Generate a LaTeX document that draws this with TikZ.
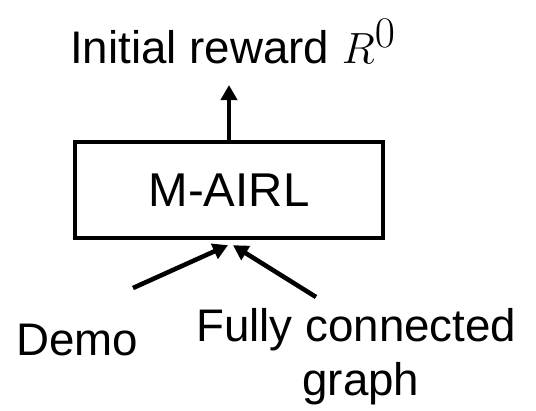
\documentclass[tikz,border=0pt]{standalone}
\usepackage{fontspec}
\setmainfont{Liberation Sans}
\usepackage{tikz}
\usetikzlibrary{arrows.meta,positioning,calc}
\tikzset{block/.style={draw=black,line width=2.5pt,minimum width=6.16cm,minimum height=1.92cm,inner sep=0pt,font=\fontsize{27}{30}\selectfont}}
\tikzset{label/.style={inner sep=0pt,font=\fontsize{26}{30}\selectfont}}

\begin{document}
\begin{tikzpicture}[x=0.02cm, y=-0.02cm, line width=2.6pt]
\tikzstyle{arr}=[-{Triangle[length=0.3cm,width=0.32cm]}]
    \useasboundingbox (0,0) rectangle (536,410);
    \node[block] (mairl) at (229,190) {M-AIRL};
    \node[label,anchor=base west] (reward) at (68,63) {Initial reward {\fontsize{38}{40}\selectfont$R^0$}};
    \node[label,anchor=base west] (demo) at (14,355) {Demo};
    \node[label,anchor=base west] (fully) at (194,341) {Fully connected};
    \node[label,anchor=base] (graph) at (361,395) {graph};
    \coordinate (rtip) at (229,85);
    \coordinate (dtail) at (133,288);
    \coordinate (gtail) at (316,297);
    \draw[arr] (mairl.north) -- (rtip);
    \draw[arr] (dtail) -- ($(mairl.south)+(-1,5)$);
    \draw[arr] (gtail) -- ($(mairl.south)+(4,5)$);
\end{tikzpicture}
\end{document}
